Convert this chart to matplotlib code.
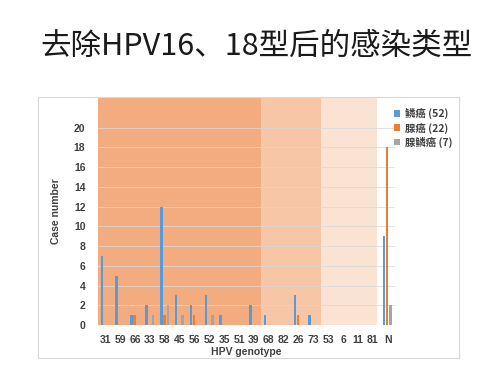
import matplotlib
matplotlib.use("Agg")
import matplotlib.pyplot as plt
from matplotlib.patches import Rectangle
import numpy as np

plt.rcParams['font.family'] = ['Noto Sans CJK SC', 'DejaVu Sans']

title = "去除HPV16、18型后的感染类型"
genotypes = ["31", "59", "66", "33", "58", "45", "56", "52", "35", "51",
             "39", "68", "82", "26", "73", "53", "6", "11", "81", "N"]
squamous = [7, 5, 1, 2, 12, 3, 2, 3, 1, 0, 2, 1, 0, 3, 1, 0, 0, 0, 0, 9]
adeno = [0, 0, 1, 0, 1, 0, 1, 0, 0, 0, 0, 0, 0, 1, 0, 0, 0, 0, 0, 18]
adenosquamous = [0, 0, 0, 1, 2, 1, 0, 1, 0, 0, 0, 0, 0, 0, 0, 0, 0, 0, 0, 2]
series_labels = ["鳞癌 (52)", "腺癌 (22)", "腺鳞癌 (7)"]
yticks = [0, 2, 4, 6, 8, 10, 12, 14, 16, 18, 20]

fig = plt.figure(figsize=(5.0, 3.73), dpi=100)
fig.patch.set_facecolor("white")

# chart frame
fig.patches.append(Rectangle((38/500, 1-358/373), (459-38)/500, (358-97)/373,
                             transform=fig.transFigure, fill=False,
                             edgecolor="#D9D9D9", linewidth=0.8))

fig.text(0.513, 1-46/373, title, ha="center", va="center", fontsize=22,
         color="#1a1a1a")

ax = fig.add_axes([98/500, 1-325/373, (395-98)/500, (325-98)/373])
x = np.arange(len(genotypes))
ax.set_xlim(-0.5, len(genotypes)-0.5)
ax.set_ylim(0, 23)

# background bands
ax.axvspan(-0.5, 10.48, color="#F2AC80", zorder=0, lw=0)
ax.axvspan(10.48, 14.52, color="#F7C6A6", zorder=0, lw=0)
ax.axvspan(14.52, 18.26, color="#FBE3D4", zorder=0, lw=0)

for t in yticks:
    ax.axhline(t, color="#D9D9D9", lw=0.7, zorder=1, alpha=0.8)

w = 0.17
ax.bar(x-0.24, squamous, w, color="#5B9BD5", zorder=3, label=series_labels[0])
ax.bar(x-0.03, adeno, w, color="#ED7D31", zorder=3, label=series_labels[1])
ax.bar(x+0.2, adenosquamous, w, color="#A5A5A5", zorder=3, label=series_labels[2])

lab_font = dict(fontsize=7.5, fontweight="bold", color="#404040",
                family=["Liberation Sans", "DejaVu Sans"])
for s in ax.spines.values():
    s.set_visible(False)
ax.set_yticks(yticks)
ax.set_yticklabels([str(t) for t in yticks], **lab_font)
ax.set_xticks(x)
ax.set_xticklabels(genotypes, **lab_font)
ax.tick_params(axis="both", length=0)
ax.tick_params(axis="y", pad=9)
ax.tick_params(axis="x", pad=7)
ax.set_ylabel("Case number", labelpad=9, **lab_font)
ax.set_xlabel("HPV genotype", labelpad=1.5, **lab_font)

leg = fig.legend(loc="upper left", bbox_to_anchor=(390/500, 1-104/373),
                 frameon=False, fontsize=7.5, handlelength=0.6, handleheight=0.6,
                 handletextpad=0.4, labelspacing=0.3, borderaxespad=0)
for t in leg.get_texts():
    t.set_color("#404040")
    t.set_fontweight("bold")

fig.savefig("out.png", dpi=100)
